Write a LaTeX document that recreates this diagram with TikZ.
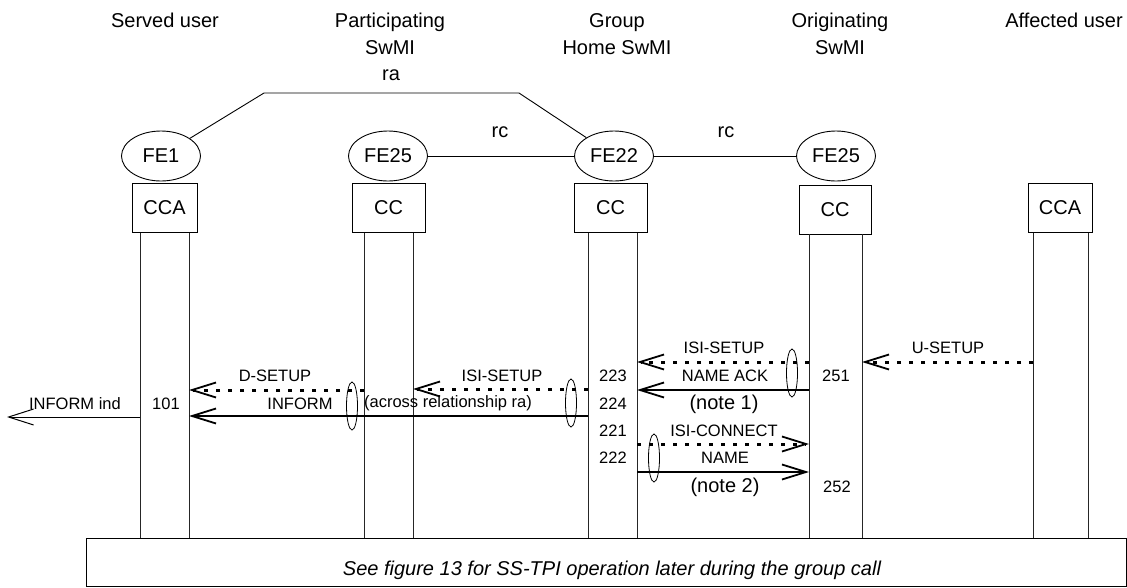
\documentclass[tikz,border=0pt]{standalone}
\usepackage{fontspec}
\setmainfont{Liberation Sans}
\usetikzlibrary{arrows.meta,shapes.geometric}

\tikzset{
  hdr/.style={font=\fontsize{20}{27}\selectfont, inner sep=0pt, align=center},
  lbl/.style={font=\fontsize{16.5}{19}\selectfont, inner sep=0pt, anchor=base},
  biglbl/.style={font=\fontsize{20}{24}\selectfont, inner sep=0pt, anchor=base},
  fe/.style={ellipse, draw, line width=0.9pt, minimum width=79pt, minimum height=50pt,
             inner sep=0pt, font=\fontsize{20}{24}\selectfont},
  ccbox/.style={rectangle, draw, line width=0.9pt, minimum height=49pt,
             inner sep=0pt, font=\fontsize{20}{24}\selectfont},
  life/.style={line width=1pt, black!85},
  link/.style={line width=0.9pt},
  msg/.style={line width=2pt, -{Straight Barb[length=24pt, width=15pt, line width=1.8pt]}},
  sig/.style={msg, line width=3pt, dash pattern=on 4pt off 8pt},
  indic/.style={line width=1pt, -{Straight Barb[length=25pt, width=16pt, line width=1pt]}},
  oval/.style={ellipse, draw, line width=0.8pt, minimum width=11pt, minimum height=48pt, inner sep=0pt},
}

\begin{document}
\begin{tikzpicture}[x=1pt, y=-1pt]
\useasboundingbox (0,0) rectangle (1127,587);

% column headings
\node[hdr, anchor=base] (hsu) at (165,27.2) {Served user};
\node[hdr, anchor=north] (hps) at (390,12.9) {Participating\\SwMI};
\node[hdr, anchor=north] (hgh) at (617,12.9) {Group\\Home SwMI};
\node[hdr, anchor=north] (hos) at (840,12.9) {Originating\\SwMI};
\node[hdr, anchor=base] (hau) at (1064,27.2) {Affected user};

% functional entities
\node[fe] (fe1)  at (161,156) {FE1};
\node[fe] (fe25a) at (388,156) {FE25};
\node[fe] (fe22) at (614,156) {FE22};
\node[fe] (fe25b) at (836,156) {FE25};

% relationships
\coordinate (ra1) at (264,93);
\coordinate (ra2) at (519,93);
\draw[link] (fe1) -- (ra1) -- (ra2) -- (fe22);
\node[biglbl] (ralbl) at (391,80.5) {ra};
\draw[link] (fe25a) -- (fe22);
\draw[link] (fe22) -- (fe25b);
\node[biglbl] (rc1) at (500,137.5) {rc};
\node[biglbl] (rc2) at (726,137.5) {rc};

% call control boxes
\node[ccbox, minimum width=65pt] (cca1) at (164.5,208) {CCA};
\node[ccbox, minimum width=73pt] (cc25a) at (388.5,208) {CC};
\node[ccbox, minimum width=73pt] (cc22) at (610.5,208) {CC};
\node[ccbox, minimum width=72pt] (cc25b) at (835,209.5) {CC};
\node[ccbox, minimum width=64pt] (cca2) at (1060,208) {CCA};

% bottom note
\node[draw, line width=0.9pt, minimum width=1040pt, minimum height=48pt, inner sep=0pt] (note) at (606,562) {};
\node[biglbl, font=\fontsize{20}{24}\selectfont\itshape] (notetxt) at (612,575)
  {See figure 13 for SS-TPI operation later during the group call};

% lifelines
\coordinate (s1) at (140,232.5);  \coordinate (s2) at (189,232.5);
\coordinate (p1) at (364,232.5);  \coordinate (p2) at (413,232.5);
\coordinate (h1) at (588,232.5);  \coordinate (h2) at (637,232.5);
\coordinate (o1) at (809,234);    \coordinate (o2) at (862,234);
\coordinate (a1) at (1033,232.5); \coordinate (a2) at (1088,232.5);
\foreach \l in {s1,s2,p1,p2,h1,h2,o1,o2,a1,a2}
  \draw[life] (\l) -- (\l |- note.north);

% free end of the indication
\coordinate (outl) at (7,417);

% messages
\draw[sig] (a1 |- 0,362) -- (o2 |- 0,362);
\node[lbl] (m1) at (948,353) {U-SETUP};

\draw[sig] (o1 |- 0,362) -- (h2 |- 0,362);
\node[lbl] (m2) at (724,353) {ISI-SETUP};

\draw[msg] (o1 |- 0,390) -- (h2 |- 0,390);
\node[lbl] (m3) at (725,381) {NAME ACK};
\node[biglbl] (n1) at (724,409.3) {(note 1)};

\draw[sig] (h1 |- 0,389) -- (p2 |- 0,389);
\node[lbl] (m4) at (502,381) {ISI-SETUP};

\draw[sig] (p1 |- 0,390) -- (s2 |- 0,390);
\node[lbl] (m5) at (275,381) {D-SETUP};

\draw[msg] (h1 |- 0,416) -- (s2 |- 0,416);
\node[lbl] (m6) at (300,409) {INFORM};
\node[lbl] (m7) at (448,407) {(across relationship ra)};

\draw[indic] (s1 |- outl) -- (outl);
\node[lbl] (m8) at (75,409) {INFORM ind};

\draw[sig] (h2 |- 0,444) -- (o1 |- 0,444);
\node[lbl] (m9) at (724,436) {ISI-CONNECT};

\draw[msg] (h2 |- 0,472) -- (o1 |- 0,472);
\node[lbl] (m10) at (725,463) {NAME};
\node[biglbl] (n2) at (725,492.3) {(note 2)};

% reference numbers
\node[lbl] (r101) at (166,409) {101};
\node[lbl] (r223) at (613,381) {223};
\node[lbl] (r224) at (613,409) {224};
\node[lbl] (r221) at (613,436) {221};
\node[lbl] (r222) at (613,463) {222};
\node[lbl] (r251) at (836,381) {251};
\node[lbl] (r252) at (837,492) {252};

% grouping ovals
\node[oval] (ov1) at (352,406) {};
\node[oval] (ov2) at (571,403) {};
\node[oval] (ov3) at (792,373) {};
\node[oval] (ov4) at (654,458) {};
\end{tikzpicture}
\end{document}
